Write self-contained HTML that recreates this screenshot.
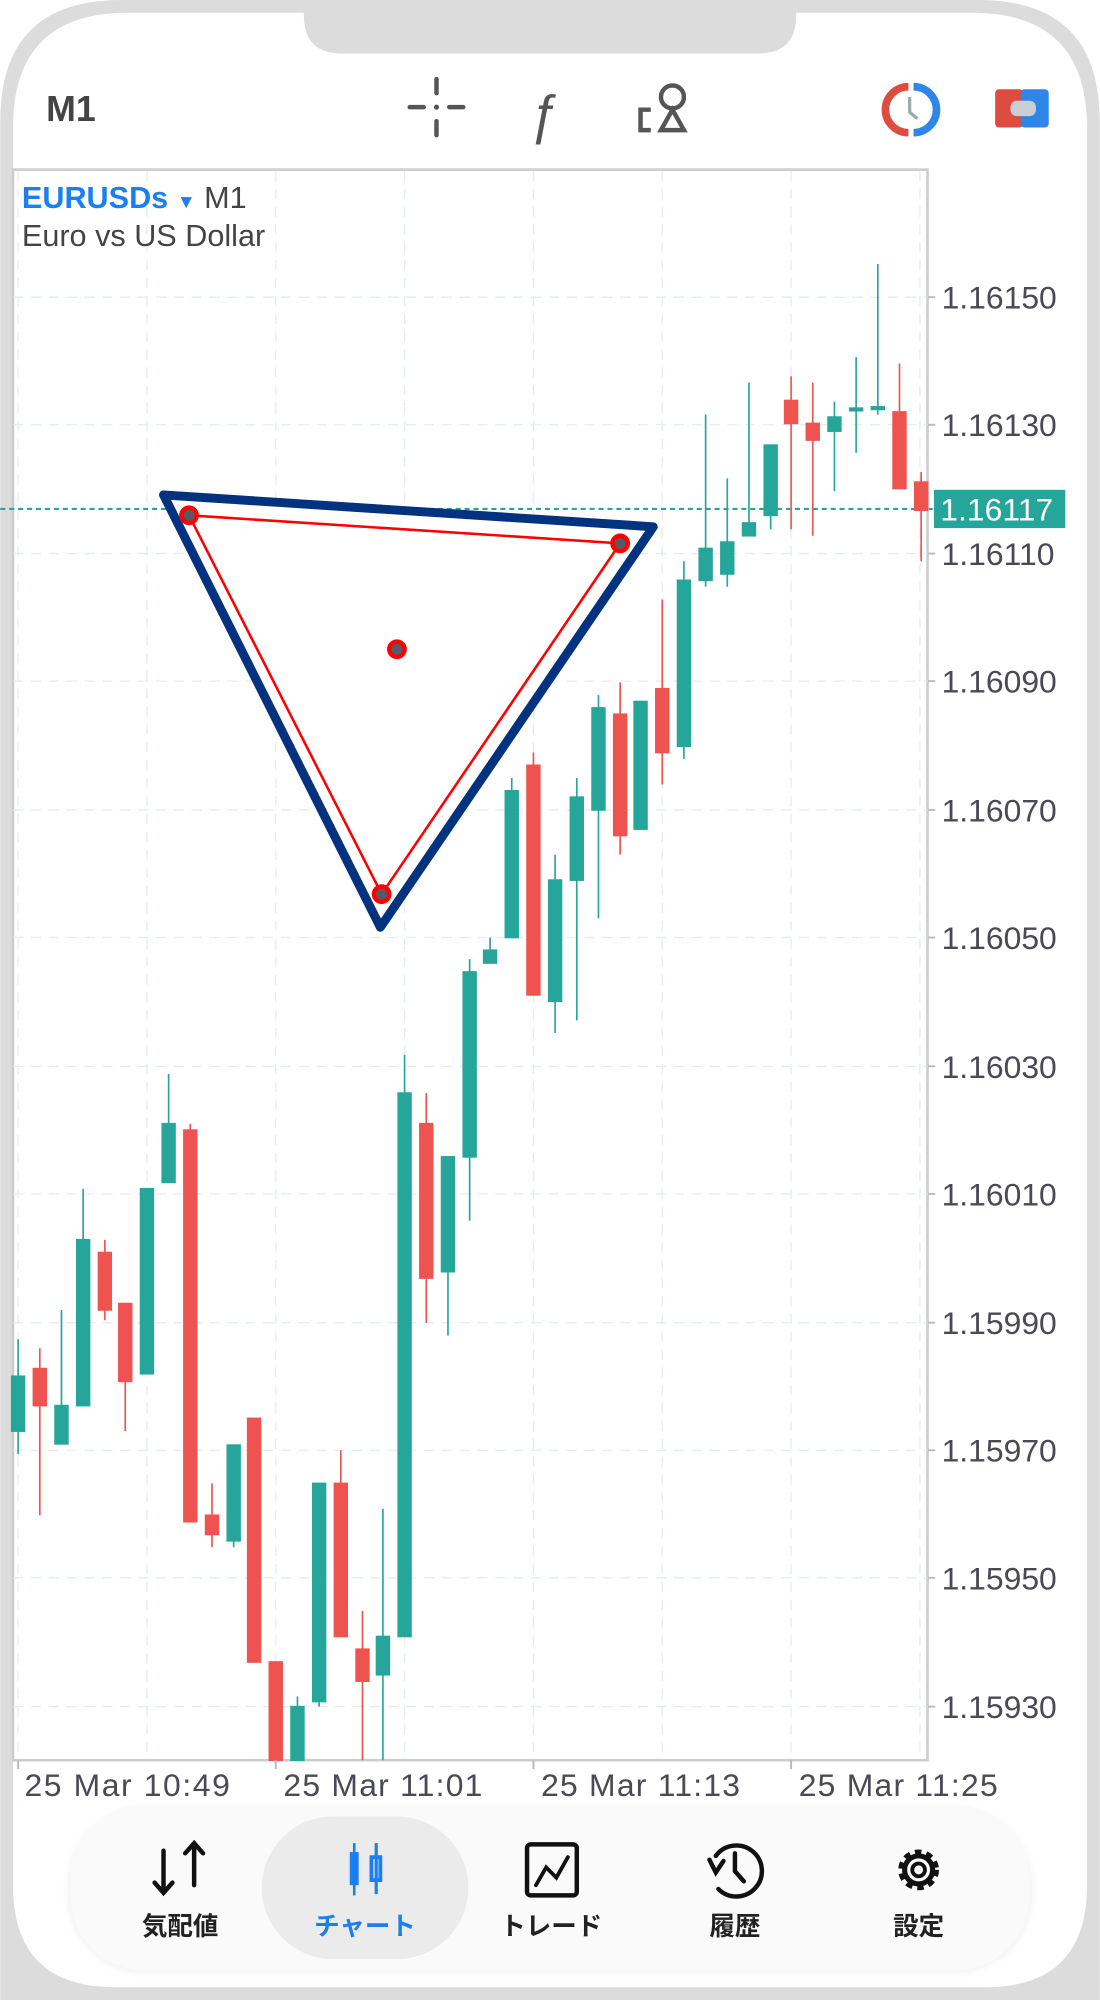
<!DOCTYPE html>
<html><head><meta charset="utf-8"><style>
html,body{margin:0;padding:0;background:#fff;width:1100px;height:2000px;overflow:hidden}
svg{display:block}
text{font-family:"Liberation Sans","Noto Sans CJK JP",sans-serif}
</style></head><body>
<svg width="1100" height="2000" viewBox="0 0 862 1568" xmlns="http://www.w3.org/2000/svg">
<defs><filter id="sh" x="-10%" y="-20%" width="120%" height="140%"><feGaussianBlur stdDeviation="4"/></filter></defs>
<rect x="0" y="0" width="862" height="1568" fill="#fff"/>
<path d="M0,1568 L0,95 Q0,0 95,0 L767,0 Q862,0 862,95 L862,1568 Z" fill="#dcdcdc"/>
<path d="M10,1478 L10,100 Q10,10 100,10 L762,10 Q852,10 852,100 L852,1478 Q852,1558 772,1558 L90,1558 Q10,1558 10,1478 Z" fill="#fff"/>
<path d="M238,0 L624,0 L624,12 Q624,42 594,42 L268,42 Q238,42 238,12 Z" fill="#dcdcdc"/>
<text x="36" y="95" font-size="28" font-weight="bold" fill="#444">M1</text>
<g stroke="#555" stroke-width="3.5" stroke-linecap="round" fill="none">
<line x1="342" y1="62" x2="342" y2="73"/><line x1="342" y1="95" x2="342" y2="106"/>
<line x1="321" y1="84" x2="332" y2="84"/><line x1="352" y1="84" x2="363" y2="84"/>
</g><circle cx="342" cy="84" r="2" fill="#555"/>
<text x="414" y="104" font-size="42" font-style="italic" fill="#555" font-family="Liberation Serif,serif">ƒ</text>
<g stroke="#555" stroke-width="3.5" fill="none">
<circle cx="527" cy="76" r="9"/><path d="M527,86 L518,102 L536,102 Z"/><path d="M510,86 L502,86 L502,102 L510,102"/>
</g>
<path d="M712,68 A18,18 0 0 0 712,104" stroke="#de4b3f" stroke-width="6" fill="none"/>
<path d="M716,68 A18,18 0 0 1 716,104" stroke="#2f86e8" stroke-width="6" fill="none"/>
<path d="M713,76 L713,88 L719,93" stroke="#9aa" stroke-width="2.5" fill="none"/>
<rect x="780" y="70" width="22" height="30" rx="3" fill="#de4b3f"/>
<rect x="800" y="70" width="22" height="30" rx="3" fill="#2f86e8"/>
<rect x="792" y="79" width="20" height="12" rx="5" fill="#c9cfd4"/>
<rect x="10" y="133" width="717" height="1247" fill="#fff" stroke="#ccc" stroke-width="2"/>
<g stroke="#e4ebf0" stroke-width="1" stroke-dasharray="8,6">
<line x1="14" y1="134" x2="14" y2="1380"/><line x1="115" y1="134" x2="115" y2="1380"/><line x1="216" y1="134" x2="216" y2="1380"/><line x1="317" y1="134" x2="317" y2="1380"/><line x1="418" y1="134" x2="418" y2="1380"/><line x1="519" y1="134" x2="519" y2="1380"/><line x1="620" y1="134" x2="620" y2="1380"/><line x1="721" y1="134" x2="721" y2="1380"/>
<line x1="10" y1="233" x2="727" y2="233"/><line x1="10" y1="333" x2="727" y2="333"/><line x1="10" y1="434" x2="727" y2="434"/><line x1="10" y1="534" x2="727" y2="534"/><line x1="10" y1="635" x2="727" y2="635"/><line x1="10" y1="735" x2="727" y2="735"/><line x1="10" y1="836" x2="727" y2="836"/><line x1="10" y1="936" x2="727" y2="936"/><line x1="10" y1="1037" x2="727" y2="1037"/><line x1="10" y1="1137" x2="727" y2="1137"/><line x1="10" y1="1237" x2="727" y2="1237"/><line x1="10" y1="1338" x2="727" y2="1338"/>
</g>
<text x="17" y="163" font-size="24" fill="#1a7ff0" font-weight="bold">EURUSDs <tspan font-size="15">▼</tspan> <tspan fill="#444" font-weight="normal">M1</tspan></text>
<text x="17" y="193" font-size="24" fill="#444">Euro vs US Dollar</text>
<line x1="0" y1="399" x2="731" y2="399" stroke="#26a69a" stroke-width="1.6" stroke-dasharray="4,3"/>
<g stroke-width="1.3">
<g stroke="#26a69a" fill="#26a69a">
<line x1="14" y1="1050" x2="14" y2="1140"/><rect x="9" y="1079" width="10" height="43"/>
<line x1="48" y1="1027" x2="48" y2="1132"/><rect x="43" y="1102" width="10" height="30"/>
<line x1="65" y1="932" x2="65" y2="1102"/><rect x="60" y="972" width="10" height="130"/>
<line x1="115" y1="932" x2="115" y2="1077"/><rect x="110" y="932" width="10" height="145"/>
<line x1="132" y1="842" x2="132" y2="927"/><rect x="127" y="881" width="10" height="46"/>
<line x1="183" y1="1133" x2="183" y2="1213"/><rect x="178" y="1133" width="10" height="75"/>
<line x1="233" y1="1330" x2="233" y2="1380"/><rect x="228" y="1338" width="10" height="42"/>
<line x1="250" y1="1163" x2="250" y2="1338"/><rect x="245" y="1163" width="10" height="171"/>
<line x1="300" y1="1183" x2="300" y2="1380"/><rect x="295" y="1283" width="10" height="30"/>
<line x1="317" y1="827" x2="317" y2="1283"/><rect x="312" y="857" width="10" height="426"/>
<line x1="351" y1="907" x2="351" y2="1047"/><rect x="346" y="907" width="10" height="90"/>
<line x1="368" y1="752" x2="368" y2="957"/><rect x="363" y="762" width="10" height="145"/>
<line x1="384" y1="735" x2="384" y2="755"/><rect x="379" y="745" width="10" height="10"/>
<line x1="401" y1="610" x2="401" y2="735"/><rect x="396" y="620" width="10" height="115"/>
<line x1="435" y1="670" x2="435" y2="810"/><rect x="430" y="690" width="10" height="95"/>
<line x1="452" y1="610" x2="452" y2="800"/><rect x="447" y="625" width="10" height="65"/>
<line x1="469" y1="545" x2="469" y2="720"/><rect x="464" y="555" width="10" height="80"/>
<line x1="502" y1="550" x2="502" y2="650"/><rect x="497" y="550" width="10" height="100"/>
<line x1="536" y1="440" x2="536" y2="595"/><rect x="531" y="455" width="10" height="130"/>
<line x1="553" y1="325" x2="553" y2="460"/><rect x="548" y="430" width="10" height="25"/>
<line x1="570" y1="375" x2="570" y2="460"/><rect x="565" y="425" width="10" height="25"/>
<line x1="587" y1="300" x2="587" y2="420"/><rect x="582" y="410" width="10" height="10"/>
<line x1="604" y1="349" x2="604" y2="415"/><rect x="599" y="349" width="10" height="55"/>
<line x1="654" y1="315" x2="654" y2="385"/><rect x="649" y="327" width="10" height="11"/>
<line x1="671" y1="280" x2="671" y2="355"/><rect x="666" y="320" width="10" height="2"/>
<line x1="688" y1="207" x2="688" y2="325"/><rect x="683" y="319" width="10" height="2"/>
</g>
<g stroke="#ef5350" fill="#ef5350">
<line x1="31" y1="1057" x2="31" y2="1188"/><rect x="26" y="1073" width="10" height="29"/>
<line x1="82" y1="972" x2="82" y2="1035"/><rect x="77" y="982" width="10" height="45"/>
<line x1="98" y1="1022" x2="98" y2="1122"/><rect x="93" y="1022" width="10" height="61"/>
<line x1="149" y1="881" x2="149" y2="1193"/><rect x="144" y="886" width="10" height="307"/>
<line x1="166" y1="1163" x2="166" y2="1213"/><rect x="161" y="1188" width="10" height="15"/>
<line x1="199" y1="1112" x2="199" y2="1303"/><rect x="194" y="1112" width="10" height="191"/>
<line x1="216" y1="1303" x2="216" y2="1380"/><rect x="211" y="1303" width="10" height="77"/>
<line x1="267" y1="1137" x2="267" y2="1283"/><rect x="262" y="1163" width="10" height="120"/>
<line x1="284" y1="1263" x2="284" y2="1380"/><rect x="279" y="1293" width="10" height="25"/>
<line x1="334" y1="857" x2="334" y2="1037"/><rect x="329" y="881" width="10" height="121"/>
<line x1="418" y1="590" x2="418" y2="780"/><rect x="413" y="600" width="10" height="180"/>
<line x1="486" y1="535" x2="486" y2="670"/><rect x="481" y="560" width="10" height="95"/>
<line x1="519" y1="470" x2="519" y2="615"/><rect x="514" y="540" width="10" height="50"/>
<line x1="620" y1="295" x2="620" y2="415"/><rect x="615" y="314" width="10" height="18"/>
<line x1="637" y1="300" x2="637" y2="420"/><rect x="632" y="332" width="10" height="13"/>
<line x1="705" y1="285" x2="705" y2="383"/><rect x="700" y="323" width="10" height="60"/>
<line x1="722" y1="370" x2="722" y2="440"/><rect x="717" y="378" width="10" height="22"/>
</g>
</g>
<path d="M128,388 L512,413 L298,727 Z" fill="#fff" stroke="#03327f" stroke-width="7" stroke-linejoin="round"/>
<path d="M148,404 L486,426 L299,701 Z" fill="none" stroke="#f00" stroke-width="2"/>
<g fill="#555a66" stroke="#f00" stroke-width="3.5">
<circle cx="148" cy="404" r="6"/><circle cx="486" cy="426" r="6"/><circle cx="299" cy="701" r="6"/><circle cx="311" cy="509" r="6"/>
</g>
<g font-size="25" fill="#4a4a55">
<text x="738" y="242">1.16150</text><text x="738" y="342">1.16130</text><text x="738" y="443">1.16110</text><text x="738" y="543">1.16090</text><text x="738" y="644">1.16070</text><text x="738" y="744">1.16050</text><text x="738" y="845">1.16030</text><text x="738" y="945">1.16010</text><text x="738" y="1046">1.15990</text><text x="738" y="1146">1.15970</text><text x="738" y="1246">1.15950</text><text x="738" y="1347">1.15930</text>
</g>
<g stroke="#bbb" stroke-width="1.5">
<line x1="727" y1="233" x2="733" y2="233"/><line x1="727" y1="333" x2="733" y2="333"/><line x1="727" y1="434" x2="733" y2="434"/><line x1="727" y1="534" x2="733" y2="534"/><line x1="727" y1="635" x2="733" y2="635"/><line x1="727" y1="735" x2="733" y2="735"/><line x1="727" y1="836" x2="733" y2="836"/><line x1="727" y1="936" x2="733" y2="936"/><line x1="727" y1="1037" x2="733" y2="1037"/><line x1="727" y1="1137" x2="733" y2="1137"/><line x1="727" y1="1237" x2="733" y2="1237"/><line x1="727" y1="1338" x2="733" y2="1338"/>
<line x1="14" y1="1380" x2="14" y2="1387"/><line x1="216" y1="1380" x2="216" y2="1387"/><line x1="418" y1="1380" x2="418" y2="1387"/><line x1="620" y1="1380" x2="620" y2="1387"/>
</g>
<rect x="732" y="384" width="103" height="30" fill="#26a69a"/>
<text x="737" y="408" font-size="25" fill="#fff">1.16117</text>
<g font-size="25" fill="#4a4a55">
<text x="19" y="1408" textLength="161">25 Mar 10:49</text><text x="222" y="1408" textLength="156">25 Mar 11:01</text><text x="424" y="1408" textLength="156">25 Mar 11:13</text><text x="626" y="1408" textLength="156">25 Mar 11:25</text>
</g>
<rect x="55" y="1419" width="752" height="126" rx="58" fill="#000" opacity="0.08" filter="url(#sh)"/>
<rect x="55" y="1415" width="752" height="130" rx="58" fill="#fafafa"/>
<rect x="205" y="1424" width="162" height="112" rx="56" fill="#ebebeb"/>
<g stroke="#111" stroke-width="3.5" fill="none" stroke-linecap="round">
<path d="M128,1451 L128,1484 M121,1476 L128,1484 L135,1476"/>
<path d="M152,1478 L152,1445 M145,1453 L152,1445 L159,1453"/>
<rect x="413" y="1446" width="39" height="40" rx="3"/>
<path d="M420,1478 L428,1464 L436,1472 L445,1456" stroke-width="3"/>
<path d="M561,1455 A20,20 0 1 1 563,1481" />
<path d="M556,1458 L561,1468 L567,1459" />
<path d="M576,1453 L576,1467 L583,1475"/>
</g>
<g fill="#1a7ff0">
<rect x="274" y="1452" width="7" height="26"/><rect x="276.5" y="1445" width="2" height="41"/>
<rect x="291" y="1456" width="7" height="18" fill="#ebebeb" stroke="#1a7ff0" stroke-width="3"/><rect x="293.5" y="1445" width="2.5" height="40"/>
</g>
<g transform="translate(720,1466)">
<circle r="14" fill="none" stroke="#111" stroke-width="4" stroke-dasharray="5,4"/>
<circle r="11" fill="none" stroke="#111" stroke-width="4"/>
<circle r="5" fill="none" stroke="#111" stroke-width="3"/>
</g>
<g font-size="20" text-anchor="middle" fill="#222" font-weight="bold">
<text x="141" y="1517">気配値</text>
<text x="286" y="1517" fill="#1a7ff0">チャート</text>
<text x="432" y="1517">トレード</text>
<text x="576" y="1517">履歴</text>
<text x="720" y="1517">設定</text>
</g>
</svg>
</body></html>
